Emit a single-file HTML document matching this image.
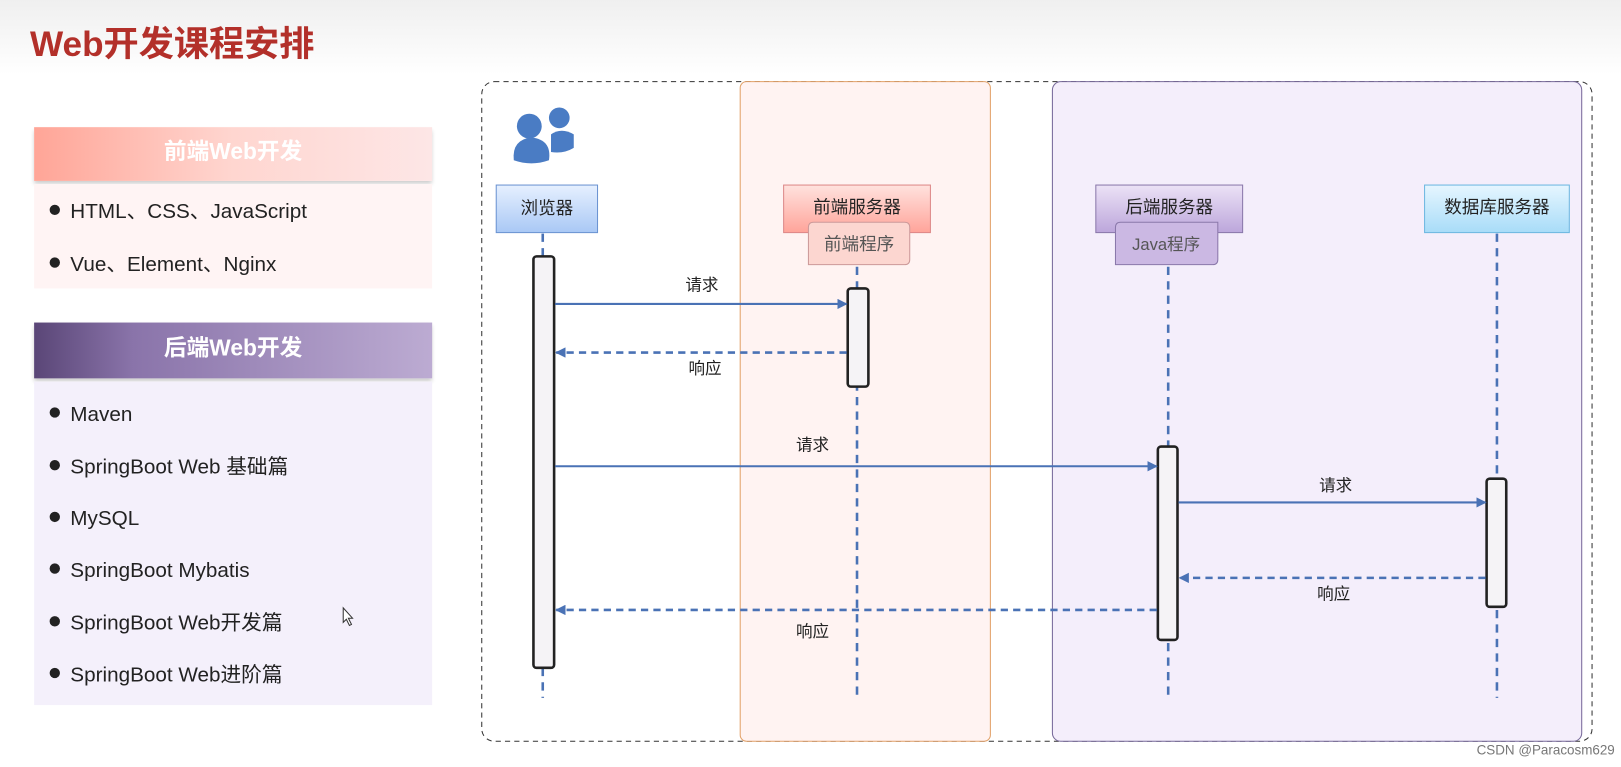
<!DOCTYPE html>
<html><head><meta charset="utf-8"><style>
body{margin:0;width:1621px;height:767px;overflow:hidden;background:#fff;font-family:"Liberation Sans","Noto Sans CJK SC",sans-serif}
#w{position:absolute;left:0;top:0;width:1568px;height:742px;transform:scale(1.0338);transform-origin:0 0}
.top{position:absolute;left:0;top:0;width:1568px;height:72px;background:linear-gradient(#efefef,#fff)}
.title{position:absolute;left:29px;top:15px;font-size:34px;font-weight:bold;color:#b3302a}
.hd{position:absolute;left:33px;width:385px;color:#fff;font-weight:bold;font-size:22px;text-align:center;box-shadow:0 3px 4px rgba(0,0,0,.2)}
.bd{position:absolute;left:33px;width:385px}
.it{position:absolute;left:48px;font-size:20px;color:#222;line-height:24px}
.it:before{content:"";display:inline-block;width:10px;height:10px;border-radius:50%;background:#222;margin-right:10px;vertical-align:3px}
</style></head><body><div id="w">
<div class="top"></div>
<div class="title">Web开发课程安排</div>
<div class="hd" style="top:123px;height:52px;line-height:48px;background:linear-gradient(90deg,#ffa597,#ffd6d0 50%,#fde6e6)">前端Web开发</div>
<div class="bd" style="top:178px;height:101px;background:#fff4f4"></div>
<div class="it" style="top:193px">HTML、CSS、JavaScript</div>
<div class="it" style="top:244px">Vue、Element、Nginx</div>
<div class="hd" style="top:312px;height:54px;line-height:50px;background:linear-gradient(90deg,#5a4677,#8a74aa 25%,#a895c2 70%,#bcabd2)">后端Web开发</div>
<div class="bd" style="top:369px;height:313px;background:#f4f0fb"></div>
<div class="it" style="top:389px">Maven</div>
<div class="it" style="top:440px">SpringBoot Web 基础篇</div>
<div class="it" style="top:490px">MySQL</div>
<div class="it" style="top:540px">SpringBoot Mybatis</div>
<div class="it" style="top:591px">SpringBoot Web开发篇</div>
<div class="it" style="top:641px">SpringBoot Web进阶篇</div>
<svg width="1568" height="742" style="position:absolute;left:0;top:0" font-family="Liberation Sans, Noto Sans CJK SC, sans-serif">
<defs>
<linearGradient id="gb" x1="0" y1="0" x2="0" y2="1"><stop offset="0" stop-color="#e6f0ff"/><stop offset="1" stop-color="#a9c8f5"/></linearGradient>
<linearGradient id="gr" x1="0" y1="0" x2="0" y2="1"><stop offset="0" stop-color="#ffe2de"/><stop offset="1" stop-color="#ffa49a"/></linearGradient>
<linearGradient id="gp" x1="0" y1="0" x2="0" y2="1"><stop offset="0" stop-color="#ece2f6"/><stop offset="1" stop-color="#bca6db"/></linearGradient>
<linearGradient id="gc" x1="0" y1="0" x2="0" y2="1"><stop offset="0" stop-color="#e6f6ff"/><stop offset="1" stop-color="#a8dcf8"/></linearGradient>
<marker id="a" markerWidth="10" markerHeight="10" refX="9" refY="5" orient="auto" markerUnits="userSpaceOnUse"><path d="M0,0L10,5L0,10z" fill="#4a72b5"/></marker>
</defs>
<rect x="466" y="79" width="1074" height="638" rx="12" fill="none" stroke="#333" stroke-dasharray="5,4"/>
<rect x="716" y="79" width="242" height="638" rx="6" fill="#fff3f2" stroke="#e2a168"/>
<rect x="1018" y="79" width="512" height="638" rx="8" fill="#f4eefb" stroke="#77699a"/>
<g fill="#4a7cc4"><circle cx="512" cy="122" r="12"/><path d="M497,155q-2,-20 17,-22q20,2 17,22q-17,6 -34,0z"/><circle cx="541" cy="114" r="10"/><path d="M533,147l0,-17q10,-7 22,0l0,13q-10,6 -22,4z"/></g>
<g stroke="#4a72b5" stroke-width="2.5" stroke-dasharray="8,6"><line x1="525" y1="226" x2="525" y2="675"/><line x1="829" y1="258" x2="829" y2="675"/><line x1="1130" y1="258" x2="1130" y2="675"/><line x1="1448" y1="226" x2="1448" y2="675"/></g>
<rect x="480" y="179" width="98" height="46" fill="url(#gb)" stroke="#6b93d1"/>
<text x="529" y="207" font-size="17" text-anchor="middle" fill="#222">浏览器</text>
<rect x="758" y="179" width="142" height="46" fill="url(#gr)" stroke="#d88"/>
<text x="829" y="206" font-size="17" text-anchor="middle" fill="#222">前端服务器</text>
<path d="M782,256V220q0,-5 5,-5h88q5,0 5,5v31q0,5 -5,5z" fill="#fcd6d0" stroke="#c99"/>
<text x="831" y="242" font-size="17" text-anchor="middle" fill="#555">前端程序</text>
<rect x="1060" y="179" width="142" height="46" fill="url(#gp)" stroke="#8a78aa"/>
<text x="1131" y="206" font-size="17" text-anchor="middle" fill="#222">后端服务器</text>
<path d="M1079,256V220q0,-5 5,-5h94v36q0,5 -5,5z" fill="#cbb8e3" stroke="#8a78aa"/>
<text x="1128" y="242" font-size="16" text-anchor="middle" fill="#555">Java程序</text>
<rect x="1378" y="179" width="140" height="46" fill="url(#gc)" stroke="#6cb7e0"/>
<text x="1448" y="206" font-size="17" text-anchor="middle" fill="#222">数据库服务器</text>
<g fill="#f5f3f6" stroke="#222" stroke-width="2.5"><rect x="516" y="248" width="20" height="398" rx="3"/><rect x="820" y="279" width="20" height="95" rx="3"/><rect x="1120" y="432" width="19" height="187" rx="3"/><rect x="1438" y="463" width="19" height="124" rx="3"/></g>
<g stroke="#4a72b5" stroke-width="2" fill="none"><line x1="537" y1="294" x2="819" y2="294" marker-end="url(#a)"/><line x1="819" y1="341" x2="538" y2="341" stroke-dasharray="7,5" marker-end="url(#a)" stroke-width="2.5"/><line x1="537" y1="451" x2="1119" y2="451" marker-end="url(#a)"/><line x1="1140" y1="486" x2="1437" y2="486" marker-end="url(#a)"/><line x1="1437" y1="559" x2="1141" y2="559" stroke-dasharray="7,5" marker-end="url(#a)" stroke-width="2.5"/><line x1="1119" y1="590" x2="538" y2="590" stroke-dasharray="7,5" marker-end="url(#a)" stroke-width="2.5"/></g>
<g font-size="16" fill="#222" text-anchor="middle"><text x="679" y="281">请求</text><text x="682" y="362">响应</text><text x="786" y="436">请求</text><text x="1292" y="475">请求</text><text x="1290" y="580">响应</text><text x="786" y="616">响应</text></g>
<text x="1562" y="730" font-size="13" text-anchor="end" fill="#777">CSDN @Paracosm629</text>
<path d="M332,588l0,14l3,-3l3,6l2,-1l-3,-6l4,0z" fill="#fff" stroke="#333"/>
</svg>
</div></body></html>
